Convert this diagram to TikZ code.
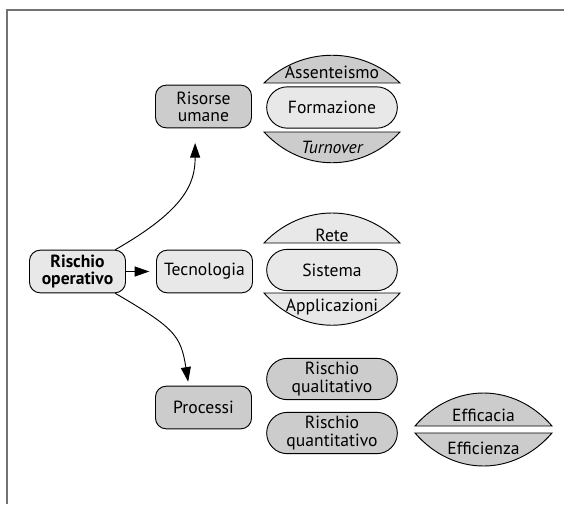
\documentclass[tikz,border=0pt]{standalone}
\usepackage{fontspec}
\setmainfont{PT Sans}
\usetikzlibrary{shapes.misc,arrows.meta}
\definecolor{lightfill}{gray}{0.91}
\definecolor{darkfill}{gray}{0.80}

\tikzset{
  box/.style={draw, rounded corners=8pt, minimum width=72pt, minimum height=32pt,
    align=center, inner sep=2pt, line width=0.7pt},
  pill/.style={draw, rounded rectangle, minimum width=102pt, minimum height=31pt,
    align=center, inner sep=2pt, line width=0.7pt},
  seg/.style={draw, line width=0.7pt},
  lbl/.style={anchor=base, inner sep=0pt},
  arr/.style={line width=0.7pt, -{Triangle[length=11pt,width=7.5pt]}}
}

\begin{document}
\begin{tikzpicture}[x=0.75pt, y=-0.75pt, font=\fontsize{13.2}{12.8}\selectfont]
        \useasboundingbox (0,0) rectangle (564,504);
        \draw[black!55, line width=1.5pt] (564,10) -- (7,10) -- (7,504);

        \node[box, fill=lightfill] (op) at (77.5,271.5) {\textbf{Rischio}\\\textbf{operativo}};
        \node[box, fill=darkfill] (ru) at (203.5,106.5) {Risorse\\umane};
        \node[box, fill=lightfill] (tec) at (204.5,271.5) {Tecnologia};
        \node[box, fill=darkfill] (pr) at (203.5,407.5) {Processi};

        \draw[arr, shorten >=5pt] (op.east) -- (tec.west);
        \draw[arr, shorten >=11pt] (op.30) .. controls +(70,-40) and +(0,55) .. (ru.-111);
        \draw[arr, shorten >=3pt] (op.-30) .. controls +(60,35) and +(-8,-50) .. (pr.124);

        % risorse umane
        \draw[seg, fill=darkfill] (264,83) .. controls (302,46) and (362,46) .. (400,83) -- cycle;
        \node[lbl] (asst) at (332,78.5) {Assenteismo};
        \node[pill, fill=lightfill] (form) at (332,107.5) {Formazione};
        \draw[seg, fill=darkfill] (264,132) .. controls (302,173) and (362,173) .. (400,132) -- cycle;
        \node[lbl] (turn) at (332,153) {\itshape Turnover};

        % tecnologia
        \draw[seg, fill=lightfill] (264,243) .. controls (302,203) and (362,203) .. (400,243) -- cycle;
        \node[lbl] (rete) at (332,241) {Rete};
        \node[pill, fill=lightfill] (sis) at (332,270) {Sistema};
        \draw[seg, fill=lightfill] (264,293) .. controls (302,336) and (362,336) .. (400,293) -- cycle;
        \node[lbl] (appl) at (332,311) {Applicazioni};

        % processi
        \node[pill, fill=darkfill] (rql) at (332,379) {Rischio\\qualitativo};
        \node[pill, fill=darkfill] (rqt) at (332,433) {Rischio\\quantitativo};
        \draw[seg, fill=darkfill] (415,426) .. controls (453,382) and (514,382) .. (552,426) -- cycle;
        \node[lbl] (effa) at (483.5,421) {Efficacia};
        \draw[seg, fill=darkfill] (415,433) .. controls (453,477) and (514,477) .. (552,433) -- cycle;
        \node[lbl] (effe) at (483.5,454) {Efficienza};
\end{tikzpicture}
\end{document}
